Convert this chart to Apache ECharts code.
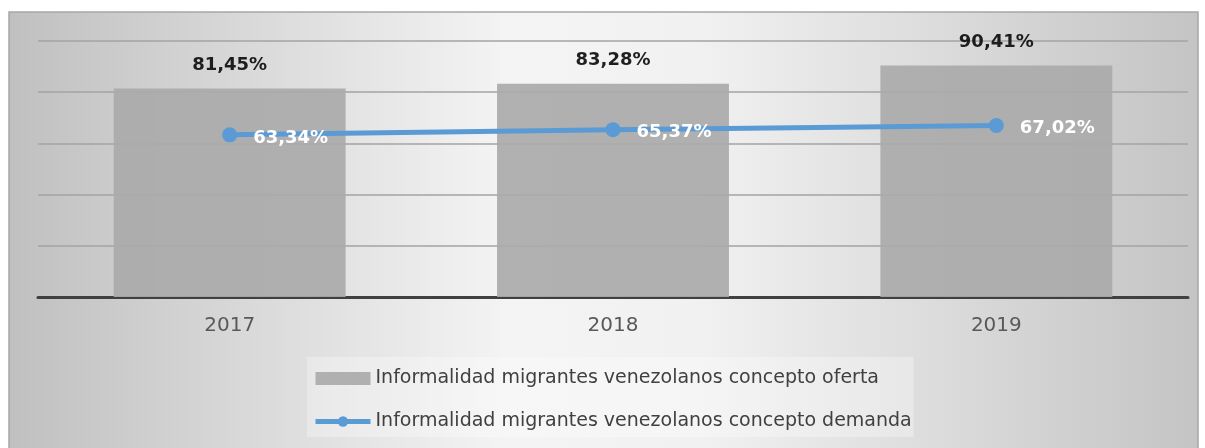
<!DOCTYPE html>
<html>
<head>
<meta charset="utf-8">
<script src="https://cdn.jsdelivr.net/npm/echarts@6/dist/echarts.min.js"></script>
<style>
  html, body { margin: 0; padding: 0; background: #fff; }
  #chart { width: 1205px; height: 448px; }
</style>
</head>
<body>
<div id="chart"></div>
<script>
// data
const years = ['2017', '2018', '2019'];
const oferta = [81.45, 83.28, 90.41];
const demanda = [63.34, 65.37, 67.02];
const ofertaName = 'Informalidad migrantes venezolanos concepto oferta';
const demandaName = 'Informalidad migrantes venezolanos concepto demanda';

const fmt = v => v.toFixed(2).replace('.', ',') + '%';

const chart = echarts.init(document.getElementById('chart'));

const option = {
  backgroundColor: '#ffffff',
  animation: false,
  textStyle: { fontFamily: 'DejaVu Sans' },
  graphic: [
    {
      type: 'rect',
      z: -10,
      silent: true,
      shape: { x: 9, y: 12, width: 1189, height: 440 },
      style: {
        fill: new echarts.graphic.LinearGradient(0, 0, 1, 0, [
          { offset: 0, color: '#c0c0c0' },
          { offset: 0.42, color: '#f4f4f4' },
          { offset: 0.58, color: '#f1f1f1' },
          { offset: 1, color: '#c4c4c4' }
        ]),
        stroke: '#a6a6a6',
        lineWidth: 1.5
      }
    }
  ],
  grid: { left: 38, right: 17, top: 41, bottom: 151 },
  legend: {
    orient: 'vertical',
    left: 307,
    top: 357,
    padding: [12, 2, 6, 6],
    itemGap: 24,
    itemWidth: 55,
    itemHeight: 13,
    itemTextGap: 6,
    backgroundColor: 'rgba(255,255,255,0.3)',
    textStyle: { fontSize: 19, color: '#404040', fontFamily: 'DejaVu Sans' },
    data: [
      { name: ofertaName, icon: 'rect' },
      { name: demandaName, lineStyle: { width: 5 } }
    ]
  },
  xAxis: {
    type: 'category',
    data: years,
    axisLine: { lineStyle: { color: '#404040', width: 3 } },
    axisTick: { show: false },
    axisLabel: { color: '#595959', fontSize: 20, margin: 19 }
  },
  yAxis: {
    type: 'value',
    min: 0,
    max: 100,
    interval: 20,
    axisLabel: { show: false },
    axisLine: { show: false },
    axisTick: { show: false },
    splitLine: { lineStyle: { color: '#a3a3a3', width: 1.5 } }
  },
  series: [
    {
      name: ofertaName,
      type: 'bar',
      data: oferta,
      barWidth: '60.5%',
      itemStyle: { color: '#aaaaaa', opacity: 0.92 },
      label: {
        show: true,
        position: 'top',
        distance: 14,
        formatter: p => fmt(p.value),
        color: '#0d0d0d',
        fontWeight: 'bold',
        fontSize: 18
      }
    },
    {
      name: demandaName,
      type: 'line',
      data: demanda,
      symbol: 'circle',
      symbolSize: 15,
      lineStyle: { color: '#5b9bd5', width: 5 },
      itemStyle: { color: '#5b9bd5' },
      label: {
        show: true,
        position: 'right',
        distance: 16,
        offset: [0, 3],
        formatter: p => fmt(p.value),
        color: '#ffffff',
        fontWeight: 'bold',
        fontSize: 18
      }
    }
  ]
};

chart.setOption(option);
</script>
</body>
</html>
